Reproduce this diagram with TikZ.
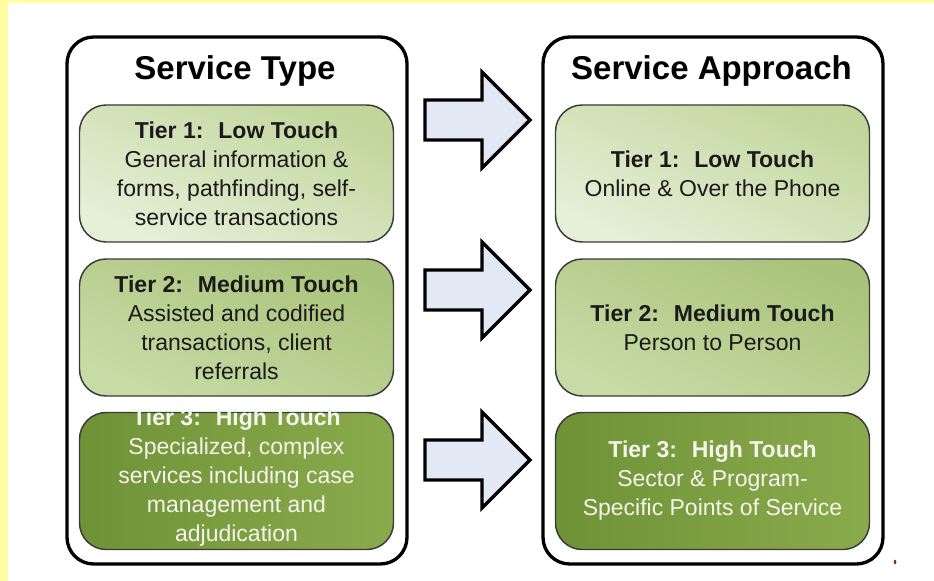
\documentclass[tikz,border=0pt]{standalone}
\usepackage{fontspec}
\setmainfont{Liberation Sans}
\definecolor{pagebg}{HTML}{FFFF9F}
\definecolor{arrowfill}{HTML}{E2E9F5}
\definecolor{tierAlight}{HTML}{E6EFD8}
\definecolor{tierAdark}{HTML}{C2D69C}
\definecolor{tierBlight}{HTML}{C8DBA6}
\definecolor{tierBdark}{HTML}{A9C37A}
\definecolor{tierCdark}{HTML}{6F9237}
\definecolor{tierClight}{HTML}{8AAB4C}
\definecolor{tierborder}{HTML}{3A3A3A}
\definecolor{darktext}{HTML}{1A1A1A}
\definecolor{lighttext}{HTML}{F4F5EC}
\definecolor{speck}{HTML}{7A3A10}
\begin{document}
\begin{tikzpicture}[x=0.75pt,y=-0.75pt,
  column/.style={draw=black, line width=2.5pt, rounded corners=20pt,
    minimum width=255pt, minimum height=395.25pt, inner sep=0pt},
  coltitle/.style={anchor=base, inner sep=0pt,
    font=\fontsize{24.75pt}{28pt}\selectfont\bfseries},
  tierbox/.style={draw=tierborder, line width=1.1pt, rounded corners=20pt,
    minimum width=235.5pt, minimum height=102.75pt, inner sep=0pt},
  tierA/.style={tierbox, bottom color=tierAlight, top color=tierAdark, shading angle=-25},
  tierB/.style={tierbox, bottom color=tierBlight, top color=tierBdark, shading angle=-25},
  tierC/.style={tierbox, left color=tierCdark, right color=tierClight},
  tiertext/.style={align=center, inner sep=0pt,
    font=\fontsize{17.25pt}{21.75pt}\selectfont},
  darkt/.style={tiertext, text=darktext},
  lightt/.style={tiertext, text=lighttext},
  blockarrow/.style={draw=black, fill=arrowfill, line width=2.6pt, line join=miter}
]
% page background with the yellow margin on the left and top
\fill[pagebg] (0,0) rectangle (934,581);
\fill[white] (8,3) rectangle (934,581);
\useasboundingbox (0,0) rectangle (934,581);

% the two columns
\node[column] (typecol) at (237,300.5) {};
\node[column] (appcol) at (713,300.5) {};
\node[coltitle] (typetitle) at (235,80) {Service Type};
\node[coltitle] (apptitle) at (711.5,80) {Service Approach};

% left column: service types
\node[tierA] (t1) at (236.5,173.5) {};
\node[tierB] (t2) at (236.5,327.5) {};
\node[tierC] (t3) at (236.5,481) {};
\node[darkt] (t1txt) at (t1.center) {\textbf{Tier 1:~ Low Touch}\\General information \&\\forms, pathfinding, self-\\service transactions};
\node[darkt] (t2txt) at (t2.center) {\textbf{Tier 2:~ Medium Touch}\\Assisted and codified\\transactions, client\\referrals};
\node[lightt] (t3txt) at (236.5,477.5) {\textbf{Tier 3:~ High Touch}\\Specialized, complex\\services including case\\management and\\adjudication};

% right column: service approaches
\node[tierA] (a1) at (712.5,173.5) {};
\node[tierB] (a2) at (712.5,327.5) {};
\node[tierC] (a3) at (712.5,481) {};
\node[darkt] (a1txt) at (a1.center) {\textbf{Tier 1:~ Low Touch}\\Online \& Over the Phone};
\node[darkt] (a2txt) at (a2.center) {\textbf{Tier 2:~ Medium Touch}\\Person to Person};
\node[lightt] (a3txt) at (a3.center) {\textbf{Tier 3:~ High Touch}\\Sector \& Program-\\Specific Points of Service};

% block arrows between the columns
\foreach \y in {120,290,460} {
  \draw[blockarrow] (425,\y-20) -- (482,\y-20) -- (482,\y-48) -- (530,\y)
    -- (482,\y+48) -- (482,\y+20) -- (425,\y+20) -- cycle;
}

% small speck at the lower right
\fill[speck] (895,562) ellipse (1.3 and 2.3);
\end{tikzpicture}
\end{document}
